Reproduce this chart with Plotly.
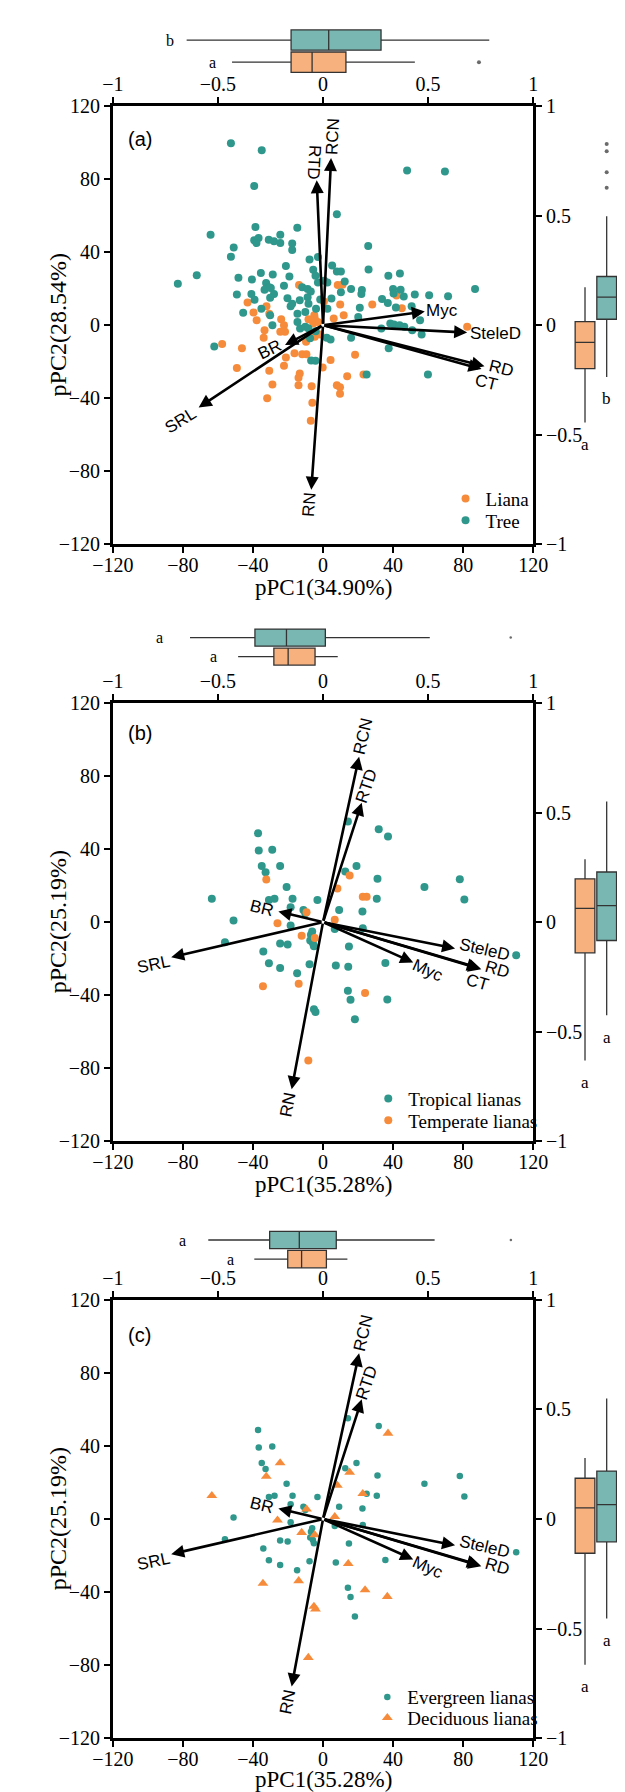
import plotly.graph_objects as go

# ------------------------------------------------------------------ data
# Panel (a): scores of liana and tree species
liana_x = [8.4, 11.1, -13.7, 42.0, -43.1, -32.3, -39.7, 9.8, 28.1, 45.0,
           11.8, 0.5, -30.7, -5.0, -37.9, -23.9, -22.3, -33.4, -33.9, -24.4,
           -21.7, -5.6, -1.5, -8.3, -4.7, -2.9, 6.1, 82.3, -57.6, -46.3,
           -4.7, -9.7, -21.2, -16.3, -11.9, -9.5, 4.3, 18.3, -22.3, -49.2,
           -30.7, -13.3, -14.0, -0.2, 13.8, 23.1, -28.9, -14.0, -6.5, 7.9,
           9.7, 9.7, -31.9, -6.1, -7.0]
liana_y = [22.0, 22.1, 22.0, 16.2, 12.4, 10.3, 7.0, 11.3, 11.3, 9.3,
           5.4, 13.0, 6.3, 5.5, 2.7, 3.2, 0.0, -2.7, -6.9, -3.6,
           -3.6, 0.9, -5.1, 3.2, 3.6, 1.8, 3.6, -0.9, -10.3, -12.6,
           -6.3, -9.0, -17.7, -15.3, -15.9, -15.9, -19.0, -16.2, -22.2, -23.4,
           -24.9, -26.5, -28.8, -23.1, -28.0, -27.0, -32.4, -32.8, -33.4, -32.8,
           -33.9, -37.5, -40.0, -42.4, -52.3]
tree_x = [-52.6, -35.0, -39.3, 48.0, 69.6, 7.9, -38.6, -14.7, -64.2, -39.3,
          -36.8, -38.0, -31.0, -28.0, -24.4, -24.4, -17.6, -17.6, -51.0, -52.6,
          25.8, -7.7, -2.9, -21.2, 5.2, 7.9, 10.2, -5.6, 26.0, -35.5,
          -28.7, -19.2, -48.3, -40.6, -72.1, -82.9, 37.3, 43.9, -4.3, -2.9,
          0.7, 2.5, 12.4, -32.5, -30.7, -33.4, -29.8, -22.3, -11.9, -8.8,
          -7.0, 16.0, 10.2, 22.2, 21.9, 40.0, 44.3, 40.3, 46.1, 52.4,
          60.6, 71.4, 86.8, -49.2, -40.9, -39.1, -28.0, -30.2, -20.3, -13.3,
          -8.8, -8.3, -1.6, 4.8, -35.2, -18.5, -17.6, -4.0, 2.5, -10.1,
          21.0, 33.7, 37.0, 41.6, 50.6, -45.6, 20.1, -30.2, -14.6, -28.9,
          -14.6, -13.1, -10.1, -8.3, -4.2, 2.1, 4.3, -7.4, 16.0, 33.3,
          38.4, 40.5, 43.7, 46.4, 50.9, 56.3, 55.4, 37.5, -62.1, -6.8,
          -4.3, 24.9, 59.9]
tree_y = [99.6, 95.7, 76.2, 84.7, 84.1, 60.7, 53.7, 53.3, 49.5, 46.5,
          47.7, 45.0, 46.8, 46.0, 49.5, 45.0, 44.7, 41.1, 42.5, 37.5,
          43.4, 36.0, 37.3, 32.4, 32.6, 29.4, 29.4, 30.3, 30.5, 28.5,
          27.7, 26.7, 26.0, 25.0, 27.4, 22.7, 27.0, 28.3, 27.0, 23.4,
          24.3, 23.4, 23.9, 23.1, 20.7, 19.4, 20.3, 21.6, 20.7, 19.8,
          18.5, 19.8, 18.0, 19.3, 17.1, 19.8, 19.4, 17.3, 15.7, 16.8,
          16.4, 15.9, 19.8, 16.8, 17.1, 13.9, 17.1, 15.0, 14.8, 13.7,
          15.3, 11.7, 14.1, 14.6, 9.0, 10.3, 11.7, 9.0, 9.0, 7.2,
          9.5, 14.4, 12.1, 9.7, 10.3, 6.8, 4.5, 5.4, 6.3, 0.0,
          1.8, -1.8, -0.9, -1.8, -3.3, -6.9, -7.8, -7.2, -6.9, -1.8,
          0.9, 0.4, 0.0, -0.9, -2.7, -5.1, 2.7, -12.6, -11.7, -19.3,
          -19.5, -27.0, -27.0]

# Panels (b) and (c): scores of liana species (same ordination)
sp_x = [14.2, 31.8, 37.1, -37.1, -36.7, -29.0, -35.0, -32.8, -24.5, -32.4,
        12.7, 15.2, 19.1, -20.8, 8.2, 31.1, 57.9, 78.1, 22.7, 24.9,
        30.7, 80.7, -63.5, -30.9, -27.7, -17.4, -3.2, -18.5, -11.2, -10.1,
        -9.4, 9.2, 22.5, -51.1, -26.0, -18.5, 6.7, 6.7, 22.7, -6.2,
        -6.9, -12.2, -4.7, -7.3, -5.8, -5.2, -56.0, -24.5, -20.2, 14.8,
        -34.1, -30.9, -24.5, -14.8, -7.7, 7.3, 14.4, 35.6, 110.3, -34.3,
        -13.9, 14.2, 15.7, 24.0, 36.7, -5.2, -4.3, 18.2, -8.4]
sp_y = [55.1, 50.9, 46.9, 48.7, 39.2, 39.7, 30.7, 27.4, 30.7, 23.3,
        27.8, 25.6, 30.7, 19.3, 18.4, 23.8, 19.3, 23.5, 13.9, 13.9,
        12.8, 12.4, 12.8, 12.1, 12.8, 12.8, 12.1, 8.1, 6.7, 4.9,
        5.4, 6.7, 5.8, 0.9, -0.6, -1.8, 1.3, -3.8, -3.3, -5.1,
        -6.9, -7.4, -8.7, -10.1, -11.4, -13.2, -11.0, -11.7, -12.3, -13.4,
        -16.1, -22.6, -25.1, -28.0, -23.1, -23.8, -24.4, -22.4, -18.2, -35.2,
        -33.8, -37.6, -42.6, -38.8, -42.4, -47.8, -49.3, -53.3, -75.8]
# T = tropical, M = temperate
sp_climate = list("TTTTTTTTTM" "TMTTMTTTMM" "TTTTTTTTTT" "MTTTMTMTTT"
                  "TMMTTTTTTT" "TTTTTTTTTM" "MTTMTTTTM")
# E = evergreen, D = deciduous
sp_habit = list("EEDEEEEEDD" "EDEEDEEEDE" "EEDEEEEEEE" "DEEEDEDEEE"
                "EDDEEEEEEE" "EEEEEEDEED" "DEEDDDDED")

# trait loadings (arrow tips, in score units)
traits = ["RTD", "RCN", "Myc", "SteleD", "RD", "CT", "BR", "SRL", "RN"]
load_a_x = [-3.6, 4.6, 58.1, 82.3, 92.2, 90.5, -21.7, -71.0, -6.7]
load_a_y = [79.3, 91.5, 7.5, -4.0, -22.5, -24.0, -10.8, -45.0, -90.0]
load_bc_x = [22.1, 20.6, 51.5, 75.4, 90.4, 89.6, -25.5, -86.7, -17.9]
load_bc_y = [65.5, 90.7, -22.1, -14.4, -25.8, -25.3, 5.8, -19.2, -91.6]

# marginal box plots: [orange group, teal group]
a_groups = ["Liana", "Tree"]
a_top_lo = [-0.433, -0.649]; a_top_q1 = [-0.152, -0.152]; a_top_md = [-0.052, 0.027]
a_top_q3 = [0.109, 0.276]; a_top_hi = [0.437, 0.791]
a_top_out = [[0.742], []]
a_rt_lo = [-0.444, -0.236]; a_rt_q1 = [-0.198, 0.027]; a_rt_md = [-0.078, 0.128]
a_rt_q3 = [0.016, 0.222]; a_rt_hi = [0.173, 0.497]
a_rt_out = [[], [0.627, 0.698, 0.793, 0.826]]
a_top_letters = ["a", "b"]; a_rt_letters = ["a", "b"]

b_groups = ["Temperate lianas", "Tropical lianas"]
b_top_lo = [-0.404, -0.633]; b_top_q1 = [-0.234, -0.324]; b_top_md = [-0.166, -0.174]
b_top_q3 = [-0.038, 0.011]; b_top_hi = [0.070, 0.508]
b_top_out = [[], [0.893]]
b_rt_lo = [-0.632, -0.425]; b_rt_q1 = [-0.140, -0.084]; b_rt_md = [0.063, 0.075]
b_rt_q3 = [0.198, 0.229]; b_rt_hi = [0.287, 0.551]
b_rt_out = [[], []]
b_top_letters = ["a", "a"]; b_rt_letters = ["a", "a"]

c_groups = ["Deciduous lianas", "Evergreen lianas"]
c_top_lo = [-0.327, -0.546]; c_top_q1 = [-0.168, -0.254]; c_top_md = [-0.102, -0.113]
c_top_q3 = [0.016, 0.063]; c_top_hi = [0.116, 0.531]
c_top_out = [[], [0.894]]
c_rt_lo = [-0.664, -0.453]; c_rt_q1 = [-0.156, -0.104]; c_rt_md = [0.051, 0.066]
c_rt_q3 = [0.186, 0.219]; c_rt_hi = [0.279, 0.550]
c_rt_out = [[], []]
c_top_letters = ["a", "a"]; c_rt_letters = ["a", "a"]

pc1_titles = ["pPC1(34.90%)", "pPC1(35.28%)", "pPC1(35.28%)"]
pc2_titles = ["pPC2(28.54%)", "pPC2(25.19%)", "pPC2(25.19%)"]
panel_tags = ["(a)", "(b)", "(c)"]
main_ticks = [-120, -80, -40, 0, 40, 80, 120]
sec_ticks = [-1, -0.5, 0, 0.5, 1]

# ------------------------------------------------------------------ style
W, H = 625, 1792
TEAL, ORANGE = "#2f978b", "#f68c3b"
TEAL_FILL, ORANGE_FILL = "#79b8b2", "#f6b17e"
SERIF, SANS = "Liberation Serif", "Liberation Sans"


def px(v):
    return v / W


def py(v):
    return 1 - v / H


PLOT_X = (89, 535)
RIGHT_BOX_X = (566, 625)
geom = [
    dict(main=(88, 532), top=(7.9, 57.1), top_w=0.92, tag_y=121, xt_y=576,
         leg_x=442, leg_y=[485.7, 507.7], top_gap=[0.094, 0.078]),
    dict(main=(692.7, 1136), top=(614.8, 657.0), top_w=0.90, tag_y=723, xt_y=1180,
         leg_x=360, leg_y=[1093, 1115], top_gap=[0.118, 0.147]),
    dict(main=(1296.7, 1740.7), top=(1224.6, 1267.1), top_w=0.91, tag_y=1332, xt_y=1782,
         leg_x=359, leg_y=[1699, 1720], top_gap=[0.113, 0.124]),
]
# label offsets (px right, px down, text angle)
lab_a = {"RTD": (-2.5, -18, 93), "RCN": (2, -21, -87), "Myc": (17, -1, 0),
         "SteleD": (28.5, 1, 0), "RD": (17, 2, 14), "CT": (5, 13, 14),
         "BR": (-15, 5, -26), "SRL": (-18, 13, -32), "RN": (-2, 15, -86)}
lab_bc = {"RTD": (5, -17, -71), "RCN": (4, -20, -77), "Myc": (15, 8, 24),
          "SteleD": (29, 1, 13), "RD": (16, 0, 16), "CT": (-2, 14, 16),
          "BR": (-16, -3, 14), "SRL": (-18, 7, -12), "RN": (-4, 15, -79)}

fig = go.Figure()
layout = dict(width=W, height=H, margin=dict(l=0, r=0, t=0, b=0),
              paper_bgcolor="white", plot_bgcolor="white", showlegend=True)
annotations = []


def aid(k, n):
    return k if n == 1 else f"{k}{n}"


def akey(k, n):
    return f"{k}axis" if n == 1 else f"{k}axis{n}"


axis_common = dict(showline=True, linecolor="black", linewidth=2.5, ticks="outside",
                   ticklen=6, tickwidth=2, tickcolor="black", showgrid=False,
                   zeroline=False, tickfont=dict(family=SERIF, size=20, color="black"))
hidden = dict(visible=False, showgrid=False, zeroline=False)

panels = [
    dict(groups=a_groups,
         top=(a_top_lo, a_top_q1, a_top_md, a_top_q3, a_top_hi, a_top_out, a_top_letters),
         rt=(a_rt_lo, a_rt_q1, a_rt_md, a_rt_q3, a_rt_hi, a_rt_out, a_rt_letters),
         lx=load_a_x, ly=load_a_y, lab=lab_a, skip=[]),
    dict(groups=b_groups,
         top=(b_top_lo, b_top_q1, b_top_md, b_top_q3, b_top_hi, b_top_out, b_top_letters),
         rt=(b_rt_lo, b_rt_q1, b_rt_md, b_rt_q3, b_rt_hi, b_rt_out, b_rt_letters),
         lx=load_bc_x, ly=load_bc_y, lab=lab_bc, skip=[]),
    dict(groups=c_groups,
         top=(c_top_lo, c_top_q1, c_top_md, c_top_q3, c_top_hi, c_top_out, c_top_letters),
         rt=(c_rt_lo, c_rt_q1, c_rt_md, c_rt_q3, c_rt_hi, c_rt_out, c_rt_letters),
         lx=load_bc_x, ly=load_bc_y, lab=lab_bc, skip=["CT"]),
]

leg_count = 0
for p, (P, g) in enumerate(zip(panels, geom)):
    n_main, n_sec, n_top, n_rt = 4 * p + 1, 4 * p + 2, 4 * p + 3, 4 * p + 4
    xd = [px(PLOT_X[0]), px(PLOT_X[1])]
    yd = [py(g["main"][1]), py(g["main"][0])]
    layout[akey("x", n_main)] = dict(axis_common, domain=xd, anchor=aid("y", n_main),
                                     range=[-120, 120], tickvals=main_ticks,
                                     ticklabelstandoff=-5)
    layout[akey("y", n_main)] = dict(axis_common, domain=yd, anchor=aid("x", n_main),
                                     range=[-120, 120], tickvals=main_ticks)
    layout[akey("x", n_sec)] = dict(axis_common, overlaying=aid("x", n_main), side="top",
                                    anchor=aid("y", n_main), range=[-1, 1], tickvals=sec_ticks,
                                    ticklabelstandoff=-2)
    layout[akey("y", n_sec)] = dict(axis_common, overlaying=aid("y", n_main), side="right",
                                    anchor=aid("x", n_main), range=[-1, 1], tickvals=sec_ticks)
    layout[akey("x", n_top)] = dict(hidden, domain=xd, anchor=aid("y", n_top), range=[-1, 1])
    layout[akey("y", n_top)] = dict(hidden, domain=[py(g["top"][1]), py(g["top"][0])],
                                    anchor=aid("x", n_top), range=[-0.6, 1.6])
    layout[akey("x", n_rt)] = dict(hidden, domain=[px(RIGHT_BOX_X[0]), px(RIGHT_BOX_X[1])],
                                   anchor=aid("y", n_rt), range=[-1.043, 1.522])
    layout[akey("y", n_rt)] = dict(hidden, domain=yd, anchor=aid("x", n_rt), range=[-1, 1])

    # one single-entry legend per row, so the rows sit exactly where they should
    legs = []
    for r in range(2):
        leg_count += 1
        leg = "legend" if leg_count == 1 else f"legend{leg_count}"
        layout[leg] = dict(x=px(g["leg_x"]), y=py(g["leg_y"][r]), xanchor="left",
                           yanchor="middle", bgcolor="rgba(0,0,0,0)", borderwidth=0,
                           font=dict(family=SERIF, size=19, color="black"),
                           itemwidth=30, tracegroupgap=0)
        legs.append(leg)

    xm, ym = aid("x", n_main), aid("y", n_main)
    # ---- scatter of scores
    if p == 0:
        fig.add_trace(go.Scatter(x=liana_x, y=liana_y, mode="markers", name="Liana",
                                 marker=dict(color=ORANGE, size=8), xaxis=xm, yaxis=ym,
                                 legend=legs[0]))
        fig.add_trace(go.Scatter(x=tree_x, y=tree_y, mode="markers", name="Tree",
                                 marker=dict(color=TEAL, size=8), xaxis=xm, yaxis=ym,
                                 legend=legs[1]))
    elif p == 1:
        for r, (code, name, col) in enumerate([("T", "Tropical lianas", TEAL),
                                                ("M", "Temperate lianas", ORANGE)]):
            xs = [x for x, c in zip(sp_x, sp_climate) if c == code]
            ys = [y for y, c in zip(sp_y, sp_climate) if c == code]
            fig.add_trace(go.Scatter(x=xs, y=ys, mode="markers", name=name,
                                     marker=dict(color=col, size=8), xaxis=xm, yaxis=ym,
                                     legend=legs[r]))
    else:
        for r, (code, name, col, sym, sz) in enumerate(
                [("E", "Evergreen lianas", TEAL, "circle", 6.5),
                 ("D", "Deciduous lianas", ORANGE, "triangle-up", 9.5)]):
            xs = [x for x, c in zip(sp_x, sp_habit) if c == code]
            ys = [y for y, c in zip(sp_y, sp_habit) if c == code]
            fig.add_trace(go.Scatter(x=xs, y=ys, mode="markers", name=name,
                                     marker=dict(color=col, size=sz, symbol=sym),
                                     xaxis=xm, yaxis=ym, legend=legs[r]))
    # secondary axes holder
    fig.add_trace(go.Scatter(x=[None], y=[None], xaxis=aid("x", n_sec), yaxis=aid("y", n_sec),
                             showlegend=False, hoverinfo="skip"))

    # ---- marginal boxes
    fills = [ORANGE_FILL, TEAL_FILL]
    lo, q1, md, q3, hi, out, letters = P["top"]
    for i in range(2):
        fig.add_trace(go.Box(y=[i], q1=[q1[i]], median=[md[i]], q3=[q3[i]],
                             lowerfence=[lo[i]], upperfence=[hi[i]], orientation="h",
                             width=g["top_w"], fillcolor=fills[i], whiskerwidth=0,
                             line=dict(color="#333333", width=1.3), boxpoints=False,
                             xaxis=aid("x", n_top), yaxis=aid("y", n_top), showlegend=False,
                             hoverinfo="skip"))
        if out[i]:
            fig.add_trace(go.Scatter(x=out[i], y=[i] * len(out[i]), mode="markers",
                                     marker=dict(color="#6b6b6b", size=4 if p == 0 else 2.5),
                                     xaxis=aid("x", n_top), yaxis=aid("y", n_top),
                                     showlegend=False, hoverinfo="skip"))
        annotations.append(dict(x=lo[i] - g["top_gap"][i], y=i, xref=aid("x", n_top),
                                yref=aid("y", n_top), text=letters[i], showarrow=False,
                                xanchor="center", yanchor="middle",
                                font=dict(family=SERIF, size=16, color="black")))
    lo, q1, md, q3, hi, out, letters = P["rt"]
    for i in range(2):
        fig.add_trace(go.Box(x=[i], q1=[q1[i]], median=[md[i]], q3=[q3[i]],
                             lowerfence=[lo[i]], upperfence=[hi[i]],
                             width=0.91, fillcolor=fills[i], whiskerwidth=0,
                             line=dict(color="#333333", width=1.3), boxpoints=False,
                             xaxis=aid("x", n_rt), yaxis=aid("y", n_rt), showlegend=False,
                             hoverinfo="skip"))
        if out[i]:
            fig.add_trace(go.Scatter(x=[i] * len(out[i]), y=out[i], mode="markers",
                                     marker=dict(color="#6b6b6b", size=4),
                                     xaxis=aid("x", n_rt), yaxis=aid("y", n_rt),
                                     showlegend=False, hoverinfo="skip"))
        annotations.append(dict(x=i, y=lo[i] - 0.1, xref=aid("x", n_rt), yref=aid("y", n_rt),
                                text=letters[i], showarrow=False,
                                xanchor="center", yanchor="middle",
                                font=dict(family=SERIF, size=17, color="black")))

    # ---- loading arrows
    for t, x, y in zip(traits, P["lx"], P["ly"]):
        annotations.append(dict(x=x, y=y, ax=0, ay=0, xref=xm, yref=ym, axref=xm, ayref=ym,
                                text="", showarrow=True, arrowhead=2, arrowsize=1.0,
                                arrowwidth=2.6, arrowcolor="black", standoff=0))
        if t in P["skip"]:
            continue
        dx, dy, ang = P["lab"][t]
        annotations.append(dict(x=x, y=y, xref=xm, yref=ym, text=t, showarrow=False,
                                xanchor="center", yanchor="middle",
                                xshift=dx, yshift=-dy, textangle=ang,
                                font=dict(family=SANS, size=17, color="black")))

    # ---- titles and panel tag
    annotations.append(dict(x=px((PLOT_X[0] + PLOT_X[1]) / 2), y=py(g["xt_y"]), xref="paper",
                            yref="paper", text=pc1_titles[p], showarrow=False,
                            xanchor="center", yanchor="middle",
                            font=dict(family=SERIF, size=23, color="black")))
    annotations.append(dict(x=px(31), y=py((g["main"][0] + g["main"][1]) / 2), xref="paper",
                            yref="paper", text=pc2_titles[p], showarrow=False, textangle=-90,
                            xanchor="center", yanchor="middle",
                            font=dict(family=SERIF, size=24, color="black")))
    annotations.append(dict(x=px(117.5), y=py(g["tag_y"]), xref="paper", yref="paper",
                            text=panel_tags[p], showarrow=False,
                            xanchor="center", yanchor="middle",
                            font=dict(family=SANS, size=20, color="black")))

layout["annotations"] = annotations
fig.update_layout(**layout)
fig.write_html("out.html")
